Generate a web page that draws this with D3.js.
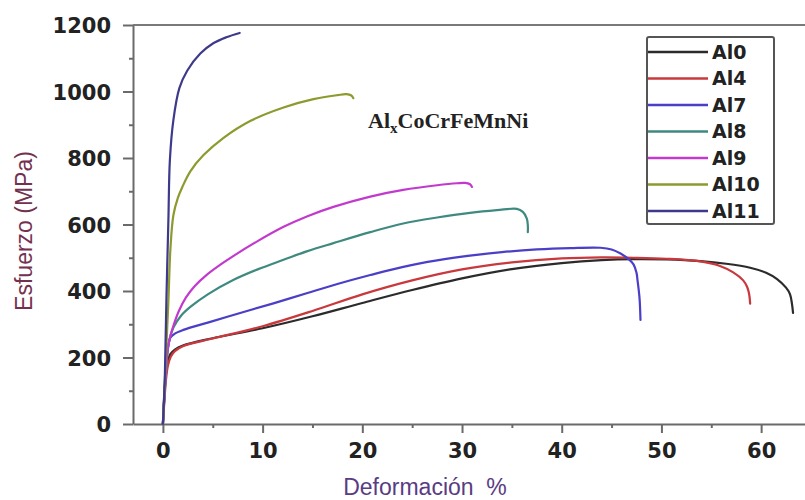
<!DOCTYPE html>
<html>
<head>
<meta charset="utf-8">
<script src="https://cdn.jsdelivr.net/npm/d3@7"></script>
<style>
  html, body { margin: 0; padding: 0; background: #fff; }
  svg { display: block; }
</style>
</head>
<body>
<svg id="chart" width="805" height="500"></svg>
<script>
// Stress–strain curves for AlxCoCrFeMnNi alloys (strain %, stress MPa)
const seriesNames = ["Al0", "Al4", "Al7", "Al8", "Al9", "Al10", "Al11"];
const seriesColors = ["#2b2b2b", "#c9383c", "#4a3fc6", "#3f8a80", "#c23acd", "#8c9a2e", "#3d3a8c"];

const al0 = [[0,0],[0.1,60],[0.25,130],[0.45,182],[0.75,210],[1.2,224],[2,236],[5,258],[10,288],[15,324],[20,364],[25,403],[30,438],[35,466],[40,484],[44,493],[47.2,496],[50.5,495],[53.9,490],[56.5,482],[58.9,470],[60.5,455],[61.6,436],[62.5,410],[62.9,390],[63.1,360],[63.2,334]];
const al4 = [[0,0],[0.15,70],[0.3,130],[0.5,175],[0.8,203],[1.2,219],[2,234],[5,257],[10,294],[15,340],[20,390],[25,432],[30,465],[35,486],[40,498],[44,501],[47.2,500],[50.5,497],[53.9,489],[55.8,476],[57.2,456],[58.2,432],[58.6,412],[58.8,390],[58.9,362]];
const al7 = [[0,0],[0.2,120],[0.4,210],[0.6,245],[0.75,260],[1.2,272],[2.05,283],[4.5,305],[7.75,334],[11,362],[14.5,394],[17.5,421],[20.8,448],[24,472],[27.5,492],[31,507],[34,517],[37.5,525],[40.9,529],[43.9,530],[45,525],[45.9,513],[46.7,496],[47.2,480],[47.5,455],[47.6,433],[47.8,380],[47.9,313]];
const al8 = [[0,0],[0.3,150],[0.6,245],[1.05,290],[1.8,325],[2.75,352],[4.5,390],[7.05,433],[9.5,465],[12.1,494],[14.5,520],[17.1,544],[20.8,577],[24.1,603],[27.5,621],[30.8,635],[33.5,643],[35.5,647],[36.1,638],[36.5,618],[36.6,597],[36.6,577]];
const al9 = [[0,0],[0.3,160],[0.5,228],[0.75,265],[1.1,300],[1.6,340],[2.3,380],[3.2,415],[4.45,450],[5.8,480],[7.05,505],[9.5,550],[12.1,593],[14.5,625],[17.1,653],[20.8,684],[24.1,704],[27.5,718],[29.5,724],[30.3,725],[30.8,721],[31,713]];
const al10 = [[0,0],[0.3,200],[0.55,370],[0.75,525],[1.05,628],[1.5,680],[1.95,713],[2.75,760],[4.05,808],[6.05,860],[8.8,912],[12.1,952],[15.1,977],[17.5,989],[18.4,992],[18.9,988],[19.1,980]];
const al11 = [[0,0],[0.2,150],[0.35,373],[0.55,614],[0.7,794],[1.05,914],[1.65,1010],[2.45,1063],[3.75,1114],[5.05,1145],[6.35,1163],[7.7,1176]];
const seriesData = [al0, al4, al7, al8, al9, al10, al11];

const yTickValues = [0, 200, 400, 600, 800, 1000, 1200];
const yMinorValues = [100, 300, 500, 700, 900, 1100];
const xTickValues = [0, 10, 20, 30, 40, 50, 60];
const xMinorValues = [5, 15, 25, 35, 45, 55];

const svg = d3.select("#chart");
const axisColor = "#6a6a6a";
const tickFont = "'DejaVu Sans', sans-serif";

const x = d3.scaleLinear().domain([-3, 64.5]).range([133, 806]);
const y = d3.scaleLinear().domain([0, 1200]).range([424, 25]);

// top frame line
svg.append("line")
  .attr("x1", x.range()[0]).attr("x2", 805)
  .attr("y1", y(1200)).attr("y2", y(1200))
  .attr("stroke", "#7a7a7a").attr("stroke-width", 2);

// minor ticks
svg.append("g")
  .attr("transform", `translate(${x(-3)},0)`)
  .call(d3.axisLeft(y).tickValues(yMinorValues).tickSize(4).tickFormat(""))
  .call(g => g.select(".domain").remove())
  .call(g => g.selectAll("line").attr("stroke", axisColor).attr("stroke-width", 2));

svg.append("g")
  .attr("transform", `translate(0,${y(0)})`)
  .call(d3.axisBottom(x).tickValues(xMinorValues).tickSize(4).tickFormat(""))
  .call(g => g.select(".domain").remove())
  .call(g => g.selectAll("line").attr("stroke", axisColor).attr("stroke-width", 2));

// main axes
const yAxis = svg.append("g")
  .attr("transform", `translate(${x(-3)},0)`)
  .call(d3.axisLeft(y).tickValues(yTickValues).tickFormat(d3.format("d"))
    .tickSize(10).tickSizeOuter(0).tickPadding(12));
yAxis.select(".domain").attr("stroke", axisColor).attr("stroke-width", 2);
yAxis.selectAll(".tick line").attr("stroke", axisColor).attr("stroke-width", 2);
yAxis.selectAll(".tick text")
  .attr("font-family", tickFont).attr("font-weight", "bold")
  .attr("font-size", 21).attr("fill", "#222").attr("dy", "0.36em");

const xAxis = svg.append("g")
  .attr("transform", `translate(0,${y(0)})`)
  .call(d3.axisBottom(x).tickValues(xTickValues).tickFormat(d3.format("d"))
    .tickSize(9).tickSizeOuter(0).tickPadding(10));
xAxis.select(".domain").attr("stroke", axisColor).attr("stroke-width", 2);
xAxis.selectAll(".tick line").attr("stroke", axisColor).attr("stroke-width", 2);
xAxis.selectAll(".tick text")
  .attr("font-family", tickFont).attr("font-weight", "bold")
  .attr("font-size", 21).attr("fill", "#222");

// axis titles
svg.append("text")
  .attr("transform", `translate(32,231) rotate(-90)`)
  .attr("text-anchor", "middle")
  .attr("font-family", "'Liberation Sans', Arial, sans-serif")
  .attr("font-size", 23).attr("fill", "#73304f")
  .text("Esfuerzo (MPa)");

svg.append("text")
  .attr("x", 425).attr("y", 495)
  .attr("text-anchor", "middle")
  .attr("font-family", "'Liberation Sans', Arial, sans-serif")
  .attr("font-size", 23).attr("fill", "#5a3c82")
  .attr("xml:space", "preserve")
  .text("Deformación  %");

// curves
const line = d3.line()
  .x(d => x(d[0]))
  .y(d => y(d[1]))
  .curve(d3.curveCatmullRom.alpha(0.5));

svg.append("g")
  .selectAll("path")
  .data(seriesData)
  .join("path")
  .attr("d", line)
  .attr("fill", "none")
  .attr("stroke", (d, i) => seriesColors[i])
  .attr("stroke-width", 2.2)
  .attr("stroke-linecap", "round")
  .attr("stroke-linejoin", "round");

// alloy label
const formula = svg.append("text")
  .attr("x", 368).attr("y", 128)
  .attr("font-family", "'Liberation Serif', 'Times New Roman', serif")
  .attr("font-weight", "bold").attr("font-size", 22).attr("fill", "#222");
formula.append("tspan").text("Al");
formula.append("tspan").attr("font-size", 15).attr("dy", 5).text("x");
formula.append("tspan").attr("dy", -5).text("CoCrFeMnNi");

// legend
const legend = svg.append("g");
legend.append("rect")
  .attr("x", 647).attr("y", 37).attr("width", 127).attr("height", 187)
  .attr("rx", 2)
  .attr("fill", "#fff").attr("stroke", "#555").attr("stroke-width", 2);

const rowY = i => 52 + i * 26.5;
const items = legend.selectAll("g.item")
  .data(seriesNames)
  .join("g").attr("class", "item");
items.append("line")
  .attr("x1", 648).attr("x2", 708)
  .attr("y1", (d, i) => rowY(i)).attr("y2", (d, i) => rowY(i))
  .attr("stroke", (d, i) => seriesColors[i]).attr("stroke-width", 2.3);
items.append("text")
  .attr("x", 712).attr("y", (d, i) => rowY(i))
  .attr("dy", "0.36em")
  .attr("font-family", tickFont).attr("font-weight", "bold")
  .attr("font-size", 19).attr("fill", "#222")
  .text(d => d);
</script>
</body>
</html>
